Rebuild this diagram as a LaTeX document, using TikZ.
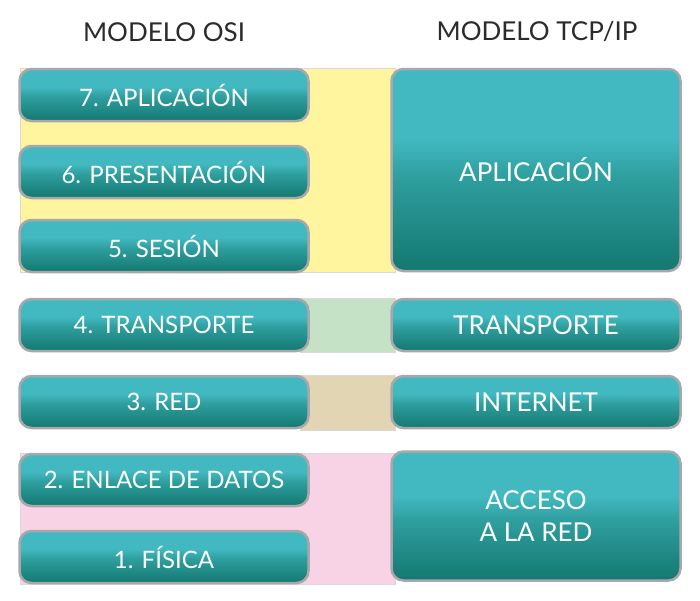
\documentclass[tikz,border=0pt]{standalone}
\usepackage{fontspec}
\setmainfont{Lato}
\definecolor{teallight}{HTML}{42B9C1}
\definecolor{tealmid}{HTML}{2E9E9E}
\definecolor{tealdark}{HTML}{137870}
\definecolor{bandyellow}{HTML}{FFF59E}
\definecolor{bandgreen}{HTML}{C6E2C6}
\definecolor{bandtan}{HTML}{E1D5B4}
\definecolor{bandpink}{HTML}{F8D3E5}
\definecolor{silver}{HTML}{A8A8AC}
\definecolor{titlegray}{HTML}{2B2B2B}
\pgfdeclareverticalshading{tealshade}{100bp}{color(0bp)=(tealdark); color(25bp)=(tealdark); color(48bp)=(tealmid); color(58bp)=(teallight); color(75bp)=(teallight); color(100bp)=(teallight)}
\tikzset{
  layerbox/.style={rectangle, rounded corners=12pt, shading=tealshade, draw=silver, line width=2.5pt,
    text=white, align=center, inner sep=0pt},
  osibox/.style={layerbox, font=\fontsize{24}{32}\selectfont, minimum width=289pt, minimum height=52pt},
  tcpbox/.style={layerbox, font=\fontsize{26}{32}\selectfont, minimum width=289pt},
  band/.style={draw=black!15, line width=0.6pt},
  title/.style={text=titlegray, font=\fontsize{26}{30}\selectfont}
}
\begin{document}
\begin{tikzpicture}[x=1pt,y=-1pt]
\useasboundingbox (0,0) rectangle (700,600);
\fill[white] (0,0) rectangle (700,600);
% bands
\filldraw[band, fill=bandyellow] (20,68) rectangle (395,272);
\filldraw[band, fill=bandgreen] (300,298) rectangle (395,352);
\filldraw[band, fill=bandtan] (300,375) rectangle (395,430);
\filldraw[band, fill=bandpink] (20,453) rectangle (395,584);
% titles
\node[title] (tosi) at (164,32) {MODELO OSI};
\node[title] (ttcp) at (537,32) {MODELO TCP/IP};
% OSI layers
\node[osibox] (o7) at (164,95) {7. APLICACIÓN};
\node[osibox] (o6) at (164,172) {6. PRESENTACIÓN};
\node[osibox] (o5) at (164,246) {5. SESIÓN};
\node[osibox] (o4) at (164,325) {4. TRANSPORTE};
\node[osibox] (o3) at (164,402) {3. RED};
\node[osibox] (o2) at (164,480) {2. ENLACE DE DATOS};
\node[osibox] (o1) at (164,557) {1. FÍSICA};
% TCP/IP layers
\node[tcpbox, minimum height=202pt] (tapp) at (536,170) {APLICACIÓN};
\node[tcpbox, minimum height=52pt] (ttr) at (536,325) {TRANSPORTE};
\node[tcpbox, minimum height=52pt] (tin) at (536,402) {INTERNET};
\node[tcpbox, minimum height=129pt] (tac) at (536,516) {ACCESO\\A LA RED};
\end{tikzpicture}
\end{document}
